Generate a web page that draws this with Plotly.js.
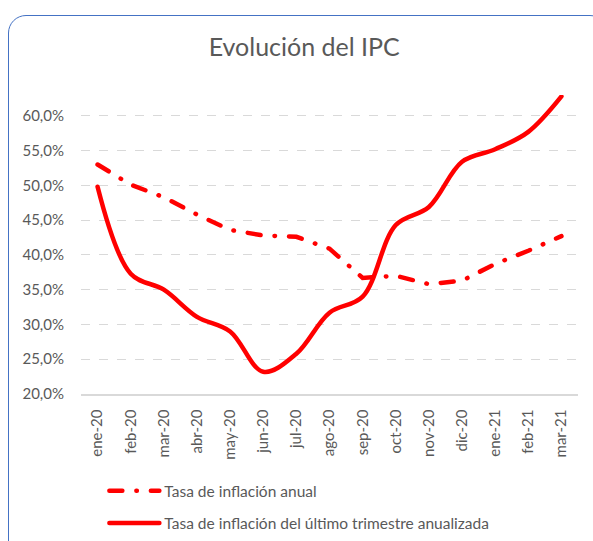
<!DOCTYPE html>
<html>
<head>
<meta charset="utf-8">
<script src="https://cdn.plot.ly/plotly-3.0.1.min.js"></script>
<style>
  html, body { margin: 0; padding: 0; background: #fff; overflow: hidden; }
  #wrap { position: relative; width: 593px; height: 541px; }
  #chart { position: absolute; left: 0; top: 0; width: 593px; height: 541px; }
  #frame { position: absolute; left: 8px; top: 15px; width: 600px; height: 560px;
           border: 1.5px solid #4472C4; border-radius: 18px; box-sizing: border-box; pointer-events: none; }
  path.js-line { stroke-linecap: round; }
</style>
</head>
<body>
<div id="wrap">
  <div id="chart"></div>
  <div id="frame"></div>
</div>
<script>
const months = ["ene-20","feb-20","mar-20","abr-20","may-20","jun-20","jul-20","ago-20","sep-20","oct-20","nov-20","dic-20","ene-21","feb-21","mar-21"];
const anual = [0.530, 0.501, 0.483, 0.458, 0.436, 0.428, 0.426, 0.409, 0.367, 0.370, 0.358, 0.363, 0.387, 0.406, 0.427];
const trimestral = [0.498, 0.373, 0.350, 0.311, 0.290, 0.232, 0.258, 0.317, 0.340, 0.443, 0.469, 0.534, 0.552, 0.577, 0.628];
const yTicks = [0.20, 0.25, 0.30, 0.35, 0.40, 0.45, 0.50, 0.55, 0.60];
const nameAnual = "Tasa de inflación anual";
const nameTrim = "Tasa de inflación del último trimestre anualizada";

const txt = "#595959";
const font = "Lato, 'Open Sans', sans-serif";

const traces = [
  { x: months, y: anual, name: nameAnual, type: "scatter", mode: "lines", legendgroup: "a",
    line: { color: "#FF0000", width: 4.5, dash: "13px,14px,0.5px,14px" } },
  { x: months, y: trimestral, name: nameTrim, type: "scatter", mode: "lines", legendgroup: "b",
    line: { color: "#FF0000", width: 4.5, shape: "spline", smoothing: 1 } }
];

const layout = {
  width: 593, height: 541,
  margin: { l: 80.5, r: 14.5, t: 95, b: 147 },
  paper_bgcolor: "#fff", plot_bgcolor: "#fff",
  separators: ",.",
  font: { family: font, color: txt, size: 15 },
  title: { text: "Evolución del IPC", xref: "container", x: 0.513, xanchor: "center",
           yref: "container", y: 0.912, yanchor: "middle",
           font: { family: font, size: 25, color: txt } },
  xaxis: { type: "category", range: [-0.5, 14.5], showgrid: false, showline: true, linecolor: "#D9D9D9", linewidth: 1.5,
           tickangle: -90, ticks: "outside", ticklen: 8, tickcolor: "rgba(0,0,0,0)",
           tickfont: { family: font, size: 15, color: txt }, fixedrange: true },
  yaxis: { range: [0.2, 0.63], tickvals: yTicks, tickformat: ".1%", showgrid: true,
           gridcolor: "#D9D9D9", gridwidth: 1, griddash: "dash", zeroline: false, showline: false,
           ticks: "outside", ticklen: 13, tickcolor: "rgba(0,0,0,0)",
           tickfont: { family: font, size: 15, color: txt }, fixedrange: true },
  showlegend: true,
  legend: { orientation: "v", xref: "paper", x: 0.047, xanchor: "left", yref: "container", y: 0.1235, yanchor: "top",
            itemwidth: 50,
            font: { family: font, size: 15.5, color: txt }, tracegroupgap: 9, bgcolor: "rgba(0,0,0,0)" },
};

Plotly.newPlot("chart", traces, layout, { staticPlot: true, displayModeBar: false });
</script>
</body>
</html>
